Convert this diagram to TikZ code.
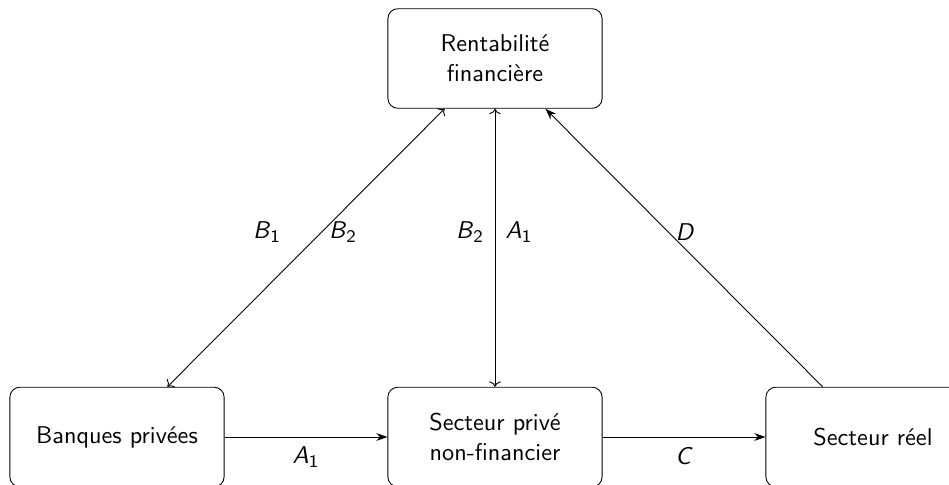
\documentclass[tikz,border=0pt]{standalone}
\usetikzlibrary{arrows.meta}
\begin{document}
\begin{tikzpicture}[x=0.015873cm,y=-0.015873cm,
  every node/.style={font=\sffamily\fontsize{10.95}{13.6}\selectfont},
  box/.style={draw,rounded corners=4.5pt,minimum width=3.4cm,minimum height=1.58cm,align=center},
  lab/.style={},
  both/.style={<->},
  fwd/.style={-{Stealth[length=5pt,width=3.5pt]}}]
\useasboundingbox (0,0) rectangle (949,485);
\clip (0,0) rectangle (949,485);
\node[box] (top) at (495,58.5) {Rentabilité\\financière};
\node[box] (bl) at (117,437) {Banques privées};
\node[box] (mid) at (495,437) {Secteur privé\\non-financier};
\node[box] (re) at (873,437) {Secteur réel};
\draw[fwd] (bl) -- node[lab,below=1pt] {\textit{A}\textsubscript{1}} (mid);
\draw[fwd] (mid) -- node[lab,below=1pt] {\textit{C}} (re);
\draw[both] ([xshift=-0.8cm]top.south) -- ([xshift=0.8cm]bl.north);
\draw[both] (top) -- (mid);
\draw[fwd] ([xshift=-0.8cm]re.north) -- ([xshift=0.8cm]top.south);
\node[lab] (b1) at (267,232) {\textit{B}\textsubscript{1}};
\node[lab] (b2a) at (343,232) {\textit{B}\textsubscript{2}};
\node[lab] (b2b) at (470,232) {\textit{B}\textsubscript{2}};
\node[lab] (a1) at (519,232) {\textit{A}\textsubscript{1}};
\node[lab] (d) at (685,232) {\textit{D}};
\end{tikzpicture}
\end{document}
